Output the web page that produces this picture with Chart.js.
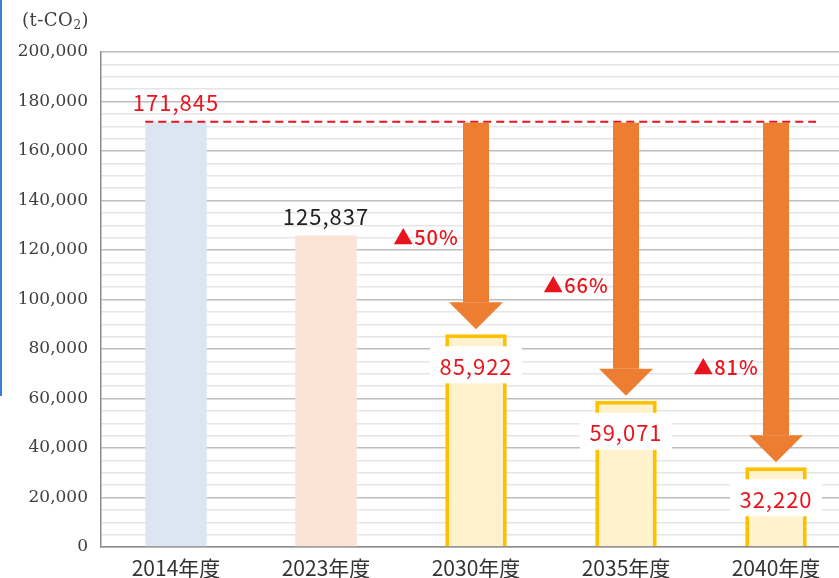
<!DOCTYPE html>
<html lang="ja">
<head>
<meta charset="utf-8">
<script src="https://cdn.jsdelivr.net/npm/chart.js@4.4.1/dist/chart.umd.min.js"></script>
<style>
    html, body { margin: 0; padding: 0; background: #fff; }
    #wrap { position: relative; width: 839px; height: 578px; overflow: hidden; }
    #unit { position: absolute; left: 22px; top: 9px; font: 18px "DejaVu Serif", serif; color: #404040; letter-spacing: 0.5px; }
    #unit sub { font-size: 12px; vertical-align: -3px; }
    #edge { position: absolute; left: 0; top: 0; width: 2px; height: 396px; background: #3b7dd0; }
    canvas { position: absolute; left: 0; top: 0; }
</style>
</head>
<body>
<div id="wrap">
    <canvas id="chart" width="851" height="578"></canvas>
    <div id="unit">(t-CO<sub>2</sub>)</div>
    <div id="edge"></div>
</div>
<script>
const years = ['2014年度', '2023年度', '2030年度', '2035年度', '2040年度'];
const emissions = [171845, 125837, 85922, 59071, 32220];
const reductions = ['', '', '▲50%', '▲66%', '▲81%'];

// styling only
const RED = '#e8141e';
const ORANGE = '#ed7d31';
const fills = ['#dce6f2', '#fbe3d6', '#fff2cc', '#fff2cc', '#fff2cc'];
const borders = ['#dce6f2', '#fbe3d6', '#ffc000', '#ffc000', '#ffc000'];
const borderWidths = [0, 0, 4, 4, 4];
const noteLift = [0, 0, 97, 115, 100];
const JP = '"Noto Sans CJK JP", "Noto Sans", sans-serif';

const fmt = v => v.toLocaleString('en-US');

const overlay = {
    id: 'overlay',
    afterDatasetsDraw(chart) {
        const ctx = chart.ctx;
        const xs = chart.scales.x;
        const ys = chart.scales.y;
        const bars = chart.getDatasetMeta(0).data;
        const baseY = ys.getPixelForValue(emissions[0]);

        ctx.save();
        // dashed reference line at the base year level
        ctx.strokeStyle = RED;
        ctx.lineWidth = 2;
        ctx.setLineDash([8, 5]);
        ctx.beginPath();
        ctx.moveTo(bars[0].x - bars[0].width / 2, baseY);
        ctx.lineTo(xs.getPixelForValue(emissions.length - 1) + 40, baseY);
        ctx.stroke();
        ctx.setLineDash([]);

        ctx.textAlign = 'center';
        ctx.textBaseline = 'middle';
        ctx.letterSpacing = '1px';

        emissions.forEach((v, i) => {
            const cx = xs.getPixelForValue(i);
            const top = ys.getPixelForValue(v);

            if (!reductions[i]) {
                ctx.font = '22px ' + JP;
                ctx.fillStyle = i === 0 ? RED : '#222';
                ctx.fillText(fmt(v), cx, top - 19);
                return;
            }

            // arrow from base level down to the bar
            const tip = top - 5;
            const headTop = tip - 27;
            ctx.fillStyle = ORANGE;
            ctx.fillRect(cx - 13, baseY + 1, 26, headTop - baseY - 1);
            ctx.beginPath();
            ctx.moveTo(cx - 27, headTop);
            ctx.lineTo(cx + 27, headTop);
            ctx.lineTo(cx, tip);
            ctx.closePath();
            ctx.fill();

            // value box inside the bar
            ctx.fillStyle = '#fff';
            ctx.fillRect(cx - 46, top + 12, 92, 37);
            ctx.font = '22px ' + JP;
            ctx.fillStyle = RED;
            ctx.fillText(fmt(v), cx, top + 32);

            // reduction note
            ctx.font = '500 20px ' + JP;
            ctx.fillText(reductions[i], cx - 50, top - noteLift[i]);
        });
        ctx.restore();
    }
};

new Chart(document.getElementById('chart'), {
    type: 'bar',
    data: {
        labels: years,
        datasets: [{
            data: emissions,
            backgroundColor: fills,
            borderColor: borders,
            borderWidth: borderWidths,
            borderSkipped: 'bottom',
            barPercentage: 0.41,
            categoryPercentage: 1
        }]
    },
    options: {
        responsive: false,
        animation: false,
        layout: { padding: { top: 52, left: 0, right: 0, bottom: 0 } },
        plugins: {
            legend: { display: false },
            tooltip: { enabled: false }
        },
        scales: {
            x: {
                grid: { display: false, drawTicks: false },
                border: { display: true, color: '#8c8c8c', width: 1.5 },
                ticks: {
                    color: '#333',
                    padding: 8,
                    font: { family: JP, size: 21 }
                },
                afterFit: s => { s.height = 31; }
            },
            y: {
                min: 0,
                max: 200000,
                grid: {
                    drawTicks: false,
                    color: c => c.tick && c.tick.value % 20000 === 0 ? '#bdbdbd' : '#e6e6e6',
                    lineWidth: 1.5
                },
                border: { display: true, color: '#8c8c8c', width: 1.5 },
                ticks: {
                    stepSize: 5000,
                    autoSkip: false,
                    padding: 13,
                    color: '#404040',
                    font: { family: '"DejaVu Serif", serif', size: 17 },
                    callback: v => v % 20000 === 0 ? fmt(v) : ''
                },
                afterFit: s => { s.width = 101; }
            }
        }
    },
    plugins: [overlay]
});
</script>
</body>
</html>
